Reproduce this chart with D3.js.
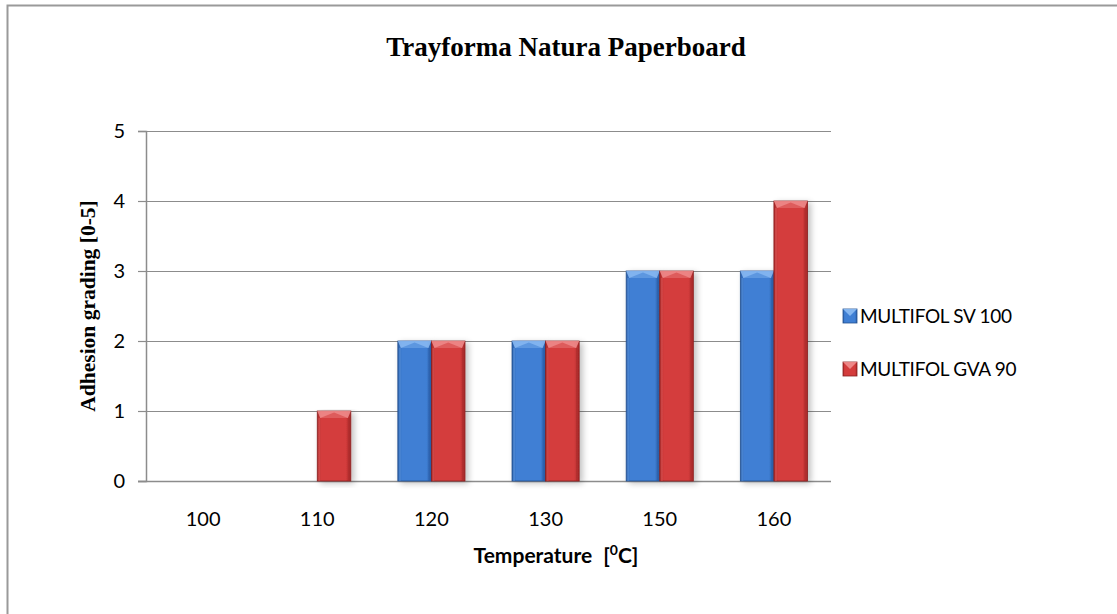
<!DOCTYPE html>
<html>
<head>
<meta charset="utf-8">
<script src="https://cdn.jsdelivr.net/npm/d3@7"></script>
<style>
  html, body { margin: 0; padding: 0; background: #fff; }
  svg { display: block; }
</style>
</head>
<body>
<svg id="chart" width="1117" height="614"></svg>
<script>
const categories = ["100", "110", "120", "130", "150", "160"];
const seriesNames = ["MULTIFOL SV 100", "MULTIFOL GVA 90"];
const sv100 = [0, 0, 2, 2, 3, 3];
const gva90 = [0, 1, 2, 2, 3, 4];
const yTicks = [0, 1, 2, 3, 4, 5];
const chartTitle = "Trayforma Natura Paperboard";
const yTitle = "Adhesion grading [0-5]";

const W = 1117, H = 614;
const margin = { left: 146, right: 1117 - 831, top: 131, bottom: 614 - 481 };
const svg = d3.select("#chart");
const defs = svg.append("defs");
const sans = "Lato, 'Open Sans', sans-serif";
const serif = "'Liberation Serif', 'Times New Roman', serif";

const palette = [
  { id: "blue", light: "#6ea6ec", mid: "#3f7fd4", dark: "#2a5ea8", edge: "#23508f", top: "#8dbcf3" },
  { id: "red",  light: "#ec6a6a", mid: "#d43c3c", dark: "#a82a2a", edge: "#8a2020", top: "#f08f8f" }
];
palette.forEach(p => {
  const g = defs.append("linearGradient").attr("id", "grad-" + p.id)
    .attr("x1", "0%").attr("x2", "100%").attr("y1", "0%").attr("y2", "0%");
  g.append("stop").attr("offset", "0%").attr("stop-color", p.dark);
  g.append("stop").attr("offset", "12%").attr("stop-color", p.mid);
  g.append("stop").attr("offset", "85%").attr("stop-color", p.mid);
  g.append("stop").attr("offset", "100%").attr("stop-color", p.dark);
});
const shadow = defs.append("filter").attr("id", "shadow")
  .attr("x", "-20%").attr("y", "-5%").attr("width", "160%").attr("height", "115%");
shadow.append("feGaussianBlur").attr("in", "SourceAlpha").attr("stdDeviation", 3).attr("result", "b");
shadow.append("feOffset").attr("in", "b").attr("dx", 3).attr("dy", 2).attr("result", "o");
shadow.append("feComponentTransfer").attr("in", "o").attr("result", "s")
  .append("feFuncA").attr("type", "linear").attr("slope", 0.25);
const fm = shadow.append("feMerge");
fm.append("feMergeNode").attr("in", "s");
fm.append("feMergeNode").attr("in", "SourceGraphic");

// outer border (only top/left visible in reference)
svg.append("rect").attr("x", 7.5).attr("y", 5.5).attr("width", 1200).attr("height", 700)
  .attr("fill", "none").attr("stroke", "#9a9a9a").attr("stroke-width", 2);

const x0 = d3.scaleBand().domain(categories).range([margin.left, W - margin.right]).paddingInner(0).paddingOuter(0);
const bw = x0.bandwidth();
const x1 = d3.scaleBand().domain(seriesNames).range([bw * 0.2059, bw * 0.7941]).padding(0);
const y = d3.scaleLinear().domain([0, 5]).range([H - margin.bottom, margin.top]);

// gridlines
svg.append("g").selectAll("line").data(yTicks.filter(d => d > 0)).join("line")
  .attr("x1", margin.left).attr("x2", W - margin.right)
  .attr("y1", d => y(d) + 0.5).attr("y2", d => y(d) + 0.5)
  .attr("stroke", "#8c8c8c").attr("stroke-width", 1.2);

// y axis
const yAxis = svg.append("g").attr("transform", `translate(${margin.left},0)`)
  .call(d3.axisLeft(y).tickValues(yTicks).tickSize(8).tickPadding(13).tickFormat(d3.format("d")));
yAxis.select(".domain").attr("stroke", "#8c8c8c").attr("stroke-width", 1.5);
yAxis.selectAll(".tick line").attr("stroke", "#8c8c8c").attr("stroke-width", 1.2);
yAxis.selectAll("text").attr("font-family", sans).attr("font-size", 20).attr("fill", "#000");

// x axis
const xAxis = svg.append("g").attr("transform", `translate(0,${y(0)})`)
  .call(d3.axisBottom(x0).tickSize(0).tickPadding(31));
xAxis.select(".domain").remove();
xAxis.selectAll("text").attr("font-family", sans).attr("font-size", 20).attr("fill", "#000");
svg.append("line").attr("x1", margin.left - 8).attr("x2", W - margin.right)
  .attr("y1", y(0) + 0.5).attr("y2", y(0) + 0.5).attr("stroke", "#8c8c8c").attr("stroke-width", 1.5);

// bars
const seriesData = [sv100, gva90];
function drawBar(g, bx, by, w, h, p) {
  if (h <= 0) return;
  const b = Math.min(7, h / 2);
  g.append("rect").attr("x", bx).attr("y", by).attr("width", w).attr("height", h)
    .attr("fill", `url(#grad-${p.id})`).attr("stroke", p.edge).attr("stroke-width", 0.8)
    .attr("filter", "url(#shadow)");
  g.append("path")
    .attr("d", `M${bx},${by} L${bx + w},${by} L${bx + w - 3},${by + b} L${bx + 3},${by + b} Z`)
    .attr("fill", p.top).attr("opacity", 0.85);
  g.append("path")
    .attr("d", `M${bx + 3},${by + b} L${bx + w / 2},${by + 1.5} L${bx + w - 3},${by + b} Z`)
    .attr("fill", p.mid).attr("opacity", 0.55);
  g.append("rect").attr("x", bx + 1).attr("y", by + b).attr("width", 2).attr("height", h - b)
    .attr("fill", p.light).attr("opacity", 0.35);
  g.append("rect").attr("x", bx + w - 3).attr("y", by + b).attr("width", 2).attr("height", h - b)
    .attr("fill", p.dark).attr("opacity", 0.5);
}
const barsG = svg.append("g");
seriesNames.forEach((s, si) => {
  categories.forEach((c, ci) => {
    const v = seriesData[si][ci];
    const bx = x0(c) + x1(s);
    drawBar(barsG, bx, y(v), x1.bandwidth(), y(0) - y(v), palette[si]);
  });
});

// title
svg.append("text").attr("x", 566).attr("y", 56).attr("text-anchor", "middle")
  .attr("font-family", serif).attr("font-weight", "bold")
  .attr("font-size", 27).text(chartTitle);

// y title
svg.append("text").attr("transform", "translate(95,306) rotate(-90)").attr("text-anchor", "middle")
  .attr("font-family", serif).attr("font-weight", "bold")
  .attr("font-size", 21.5).text(yTitle);

// x title
const xt = svg.append("text").attr("x", 556).attr("y", 563).attr("text-anchor", "middle")
  .attr("font-family", sans).attr("font-weight", "bold").attr("font-size", 21);
xt.append("tspan").text("Temperature");
xt.append("tspan").attr("dx", 11).text("[");
xt.append("tspan").attr("dy", -8).attr("font-size", 14).text("0");
xt.append("tspan").attr("dy", 8).text("C]");

// legend
const legend = svg.append("g");
seriesNames.forEach((s, i) => {
  const ly = [316, 369][i];
  const p = palette[i];
  const lx = 843, ls = 14;
  legend.append("rect").attr("x", lx).attr("y", ly - ls / 2).attr("width", ls).attr("height", ls)
    .attr("fill", `url(#grad-${p.id})`).attr("stroke", p.edge).attr("stroke-width", 0.8);
  legend.append("path").attr("d", `M${lx},${ly - ls / 2} L${lx + ls},${ly - ls / 2} L${lx + ls / 2},${ly} Z`)
    .attr("fill", p.top).attr("opacity", 0.9);
  legend.append("text").attr("x", lx + ls + 3).attr("y", ly).attr("dy", "0.35em")
    .attr("font-family", sans).attr("font-size", 19).attr("letter-spacing", -0.3).text(s);
});
</script>
</body>
</html>
